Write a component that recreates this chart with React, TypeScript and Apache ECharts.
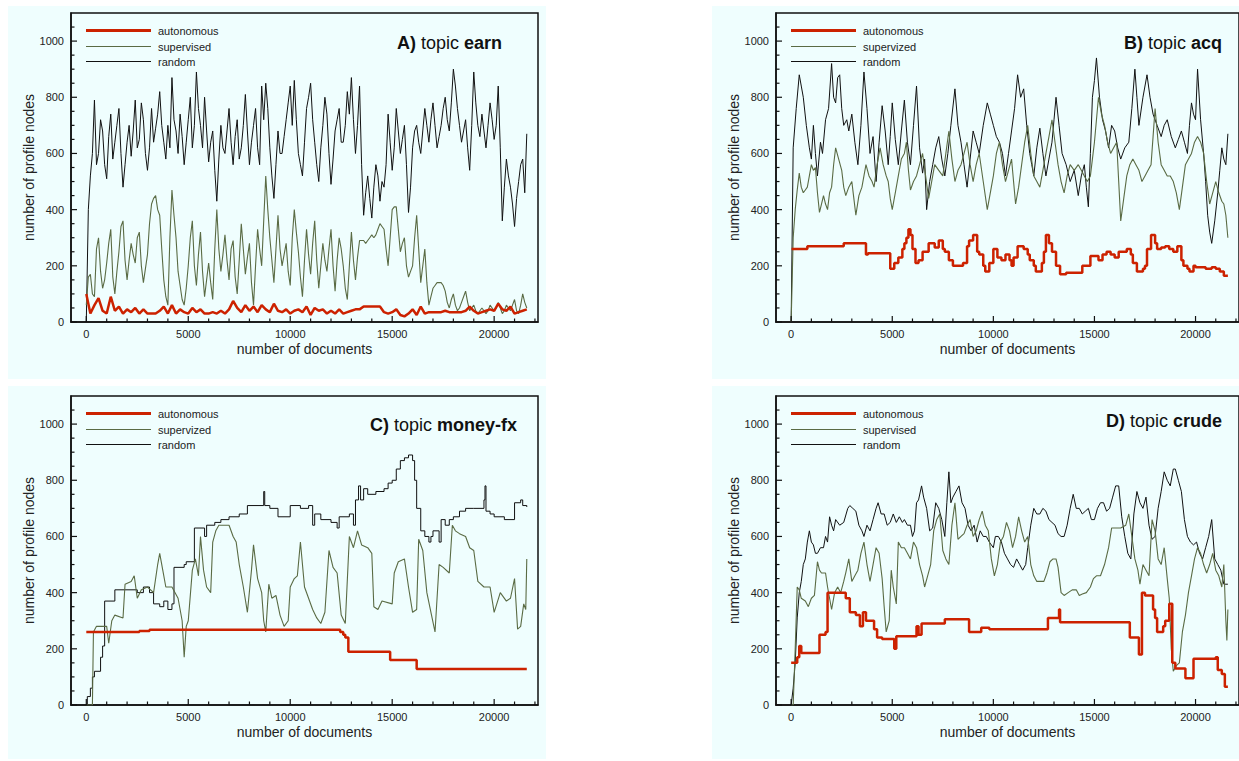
import React, { useEffect, useRef } from 'react';
import * as echarts from 'echarts';

// ---------- tick values ----------
const xTickLabels = [0, 5000, 10000, 15000, 20000];
const yTickLabels = [0, 200, 400, 600, 800, 1000];
const xTicks = [0, 1000, 2000, 3000, 4000, 5000, 6000, 7000, 8000, 9000, 10000, 11000, 12000, 13000, 14000, 15000, 16000, 17000, 18000, 19000, 20000, 21000, 22000];
const yTicks = [0, 50, 100, 150, 200, 250, 300, 350, 400, 450, 500, 550, 600, 650, 700, 750, 800, 850, 900, 950, 1000, 1050];

// ---------- titles / legends ----------
const panelTitles = [
  ['A)', 'earn'],
  ['B)', 'acq'],
  ['C)', 'money-fx'],
  ['D)', 'crude'],
];
const legendNames = [
  ['autonomous', 'supervised', 'random'],
  ['autonomous', 'supervized', 'random'],
  ['autonomous', 'supervized', 'random'],
  ['autonomous', 'supervised', 'random'],
];

// ---------- Panel A (sampled every 100 documents, 0 … 21600) ----------
const aRandom = [0, 400, 520, 600, 790, 560, 600, 720, 680, 560,
  510, 660, 740, 580, 640, 700, 760, 600, 480, 560,
  640, 700, 590, 680, 790, 620, 650, 780, 720, 600,
  540, 620, 760, 640, 690, 740, 820, 700, 640, 580,
  700, 620, 870, 720, 680, 600, 740, 660, 560, 640,
  720, 800, 620, 700, 890, 760, 700, 620, 800, 680,
  570, 640, 680, 540, 430, 580, 700, 620, 600, 680,
  760, 640, 560, 660, 720, 580, 620, 700, 810, 680,
  560, 640, 700, 760, 620, 560, 840, 720, 850, 760,
  620, 520, 440, 560, 680, 600, 600, 660, 720, 780,
  840, 700, 860, 720, 600, 560, 520, 640, 760, 800,
  850, 720, 640, 560, 500, 620, 700, 800, 740, 600,
  490, 580, 680, 720, 760, 640, 640, 700, 820, 740,
  870, 720, 600, 700, 840, 560, 380, 460, 520, 440,
  370, 480, 560, 520, 430, 500, 480, 560, 740, 640,
  540, 620, 760, 680, 600, 650, 700, 560, 390, 480,
  620, 680, 700, 640, 600, 680, 760, 700, 640, 720,
  780, 700, 620, 660, 700, 760, 800, 720, 680, 780,
  900, 840, 760, 700, 640, 680, 720, 620, 540, 700,
  890, 780, 700, 660, 740, 680, 620, 700, 780, 720,
  650, 700, 840, 620, 360, 480, 580, 520, 480, 420,
  340, 440, 500, 560, 580, 460, 670];
const aSupervised = [60, 160, 170, 100, 90, 260, 300, 180, 120, 150,
  210, 280, 330, 160, 100, 180, 250, 340, 360, 220,
  150, 220, 280, 240, 210, 300, 320, 200, 140, 190,
  240, 350, 420, 440, 450, 400, 380, 260, 150, 90,
  60, 300, 470, 380, 300, 180, 130, 80, 60, 120,
  200, 300, 360, 200, 130, 240, 320, 180, 90, 150,
  210, 140, 80, 260, 400, 260, 180, 240, 310, 220,
  150, 260, 290, 160, 100, 220, 350, 260, 170, 230,
  280, 140, 60, 200, 330, 260, 200, 360, 520, 400,
  300, 220, 140, 260, 380, 260, 200, 240, 280, 180,
  130, 300, 400, 320, 250, 160, 90, 220, 330, 240,
  170, 280, 360, 220, 120, 200, 280, 220, 180, 260,
  330, 200, 110, 220, 300, 260, 200, 120, 80, 200,
  320, 220, 150, 230, 290, 290, 290, 280, 290, 300,
  310, 300, 310, 330, 350, 340, 330, 260, 200, 300,
  400, 410, 410, 330, 250, 280, 300, 200, 160, 180,
  200, 300, 380, 260, 140, 200, 260, 140, 60, 90,
  120, 130, 140, 140, 140, 130, 110, 70, 50, 80,
  100, 60, 40, 50, 70, 90, 110, 70, 40, 50,
  60, 40, 30, 40, 50, 40, 30, 40, 60, 50,
  40, 50, 70, 50, 30, 40, 60, 50, 40, 60,
  80, 40, 30, 60, 100, 70, 50];
// sampled every 200 documents, 0 … 21600
const aAutonomous = [100, 30, 60, 85, 40, 30, 90, 40, 55, 30, 45, 35, 50, 30, 45, 30, 30, 30, 40, 55,
  30, 60, 30, 45, 35, 30, 50, 35, 45, 30, 30, 35, 30, 40, 30, 45, 75, 50, 35, 60,
  40, 55, 35, 60, 45, 35, 65, 40, 35, 45, 30, 40, 45, 35, 55, 25, 50, 40, 45, 30,
  40, 30, 45, 30, 35, 40, 45, 45, 55, 55, 55, 55, 55, 35, 30, 35, 45, 25, 20, 30,
  45, 25, 55, 30, 35, 35, 35, 35, 40, 35, 35, 35, 35, 40, 55, 40, 30, 35, 40, 45,
  40, 65, 45, 40, 55, 30, 35, 40, 45];

// ---------- Panel B ([thousand documents, nodes]) ----------
const bRandom = [[0,0],[0.1,620],[0.25,760],[0.4,880],[0.5,840],[0.6,800],[0.75,700],[0.9,620],[1.0,580],[1.1,700],[1.2,600],[1.3,520],[1.45,640],[1.55,600],[1.7,720],[1.85,760],[2.0,920],[2.1,800],[2.2,780],[2.3,870],[2.4,880],[2.5,760],[2.6,700],[2.75,720],[2.85,680],[3.0,740],[3.15,640],[3.3,560],[3.45,700],[3.6,890],[3.75,760],[3.9,600],[4.05,660],[4.2,500],[4.35,640],[4.5,770],[4.65,680],[4.8,560],[4.9,660],[5.0,780],[5.15,650],[5.3,560],[5.45,680],[5.6,790],[5.75,640],[5.9,560],[6.05,700],[6.2,840],[6.35,620],[6.5,530],[6.6,580],[6.7,400],[6.85,500],[7.0,560],[7.15,620],[7.3,660],[7.45,580],[7.6,520],[7.75,600],[7.9,700],[8.1,830],[8.25,700],[8.4,640],[8.55,560],[8.7,480],[8.85,580],[9.0,680],[9.15,640],[9.3,600],[9.5,700],[9.7,780],[9.85,740],[10.0,700],[10.15,660],[10.3,640],[10.45,600],[10.6,520],[10.75,600],[10.9,680],[11.05,760],[11.2,880],[11.35,800],[11.5,830],[11.65,700],[11.8,600],[11.9,560],[12.0,520],[12.15,620],[12.3,690],[12.45,600],[12.6,520],[12.75,580],[12.9,640],[13.0,720],[13.1,800],[13.25,700],[13.4,600],[13.6,560],[13.8,500],[14.0,540],[14.2,450],[14.35,520],[14.5,560],[14.6,480],[14.7,410],[14.8,600],[14.9,800],[15.0,860],[15.1,940],[15.25,800],[15.4,720],[15.55,680],[15.7,620],[15.85,700],[16.0,680],[16.15,620],[16.3,580],[16.5,620],[16.7,640],[16.85,760],[17.0,900],[17.1,800],[17.2,700],[17.4,800],[17.6,880],[17.75,800],[17.9,740],[18.1,700],[18.3,660],[18.45,700],[18.6,720],[18.8,660],[19.0,620],[19.15,650],[19.3,680],[19.45,640],[19.6,600],[19.7,700],[19.8,780],[19.9,740],[20.0,720],[20.1,900],[20.25,720],[20.4,600],[20.5,500],[20.6,380],[20.7,320],[20.8,280],[20.95,360],[21.1,460],[21.2,540],[21.3,620],[21.4,580],[21.5,560],[21.6,670]];
const bSupervised = [[0,0],[0.1,300],[0.2,400],[0.3,470],[0.4,530],[0.5,480],[0.6,460],[0.7,470],[0.8,480],[0.9,520],[1.0,560],[1.1,540],[1.2,550],[1.3,460],[1.4,390],[1.5,420],[1.6,450],[1.7,420],[1.8,400],[1.9,460],[2.0,480],[2.1,560],[2.2,620],[2.35,580],[2.5,540],[2.6,480],[2.7,450],[2.85,480],[3.0,500],[3.1,440],[3.2,380],[3.35,450],[3.5,480],[3.6,520],[3.7,560],[3.85,520],[4.0,500],[4.1,480],[4.25,560],[4.4,620],[4.55,560],[4.7,520],[4.8,500],[4.9,440],[5.0,400],[5.15,460],[5.3,520],[5.45,580],[5.6,600],[5.7,640],[5.8,540],[5.9,470],[6.05,500],[6.2,520],[6.35,560],[6.5,600],[6.65,520],[6.8,440],[6.95,500],[7.1,560],[7.3,540],[7.5,520],[7.65,600],[7.8,680],[7.95,580],[8.1,500],[8.25,540],[8.4,560],[8.55,600],[8.7,640],[8.85,560],[9.0,500],[9.15,560],[9.3,600],[9.5,500],[9.7,400],[9.85,460],[10.0,520],[10.15,600],[10.3,640],[10.45,560],[10.6,500],[10.75,540],[10.9,580],[11.0,500],[11.1,420],[11.25,480],[11.4,560],[11.55,640],[11.7,700],[11.85,600],[12.0,520],[12.15,500],[12.3,480],[12.45,540],[12.6,600],[12.75,660],[12.9,720],[13.05,640],[13.2,560],[13.35,500],[13.5,460],[13.65,520],[13.8,560],[14.0,540],[14.2,560],[14.35,540],[14.5,520],[14.65,500],[14.8,520],[14.9,580],[15.0,640],[15.1,720],[15.2,800],[15.35,740],[15.5,700],[15.65,640],[15.8,600],[15.95,620],[16.1,640],[16.2,500],[16.3,360],[16.45,440],[16.6,520],[16.75,560],[16.9,580],[17.05,560],[17.2,540],[17.35,500],[17.5,520],[17.65,540],[17.8,560],[17.9,660],[18.0,760],[18.15,640],[18.3,560],[18.45,540],[18.6,520],[18.75,520],[18.9,500],[19.05,460],[19.2,400],[19.35,480],[19.5,560],[19.65,580],[19.8,600],[19.95,640],[20.1,660],[20.25,640],[20.4,600],[20.55,500],[20.7,420],[20.85,460],[21.0,500],[21.15,460],[21.3,430],[21.4,420],[21.5,380],[21.6,300]];
const bAutonomous = [[0.02,260],[0.8,270],[2.6,280],[3.7,240],[3.8,245],[4.9,190],[5.1,210],[5.3,230],[5.5,260],[5.6,280],[5.7,300],[5.8,330],[5.9,310],[6.0,260],[6.15,210],[6.3,220],[6.5,250],[6.8,280],[7.1,265],[7.3,290],[7.5,260],[7.6,250],[7.8,220],[8.0,200],[8.5,210],[8.7,270],[8.8,290],[9.0,310],[9.2,250],[9.3,240],[9.5,200],[9.6,180],[9.8,210],[10.0,260],[10.2,230],[10.4,220],[10.6,240],[10.8,220],[10.9,200],[11.0,230],[11.2,270],[11.5,260],[11.7,240],[11.8,220],[12.0,200],[12.1,180],[12.4,210],[12.5,250],[12.6,310],[12.75,280],[12.9,250],[13.1,200],[13.3,170],[13.6,175],[14.2,175],[14.4,200],[14.6,200],[14.8,235],[15.2,220],[15.4,240],[15.6,250],[15.8,240],[16.0,230],[16.2,250],[16.4,250],[16.6,260],[16.8,240],[16.9,210],[17.1,180],[17.4,190],[17.5,200],[17.6,260],[17.8,310],[18.0,280],[18.1,260],[18.3,265],[18.5,270],[18.7,260],[18.9,250],[19.1,270],[19.3,220],[19.4,200],[19.6,190],[19.7,180],[19.9,200],[20.0,195],[20.5,190],[20.8,195],[21.0,190],[21.2,180],[21.4,165],[21.6,165]];

// ---------- Panel C ----------
const cRandom = [[0,0],[0.05,30],[0.2,60],[0.3,100],[0.4,120],[0.7,170],[0.8,210],[0.9,370],[1.4,410],[2.5,400],[2.8,420],[3.1,400],[3.3,360],[3.6,350],[3.8,370],[4.0,340],[4.2,360],[4.3,490],[4.8,500],[4.9,510],[5.3,630],[5.8,600],[5.9,640],[6.3,650],[6.6,660],[7.0,670],[7.5,680],[7.9,710],[8.7,760],[8.75,710],[9.0,700],[9.4,670],[10.0,710],[10.5,700],[10.9,710],[11.1,640],[11.2,680],[11.5,660],[12.0,650],[12.3,630],[12.4,670],[12.9,680],[13.1,640],[13.2,730],[13.35,780],[13.45,730],[13.6,770],[13.8,750],[14.2,760],[14.6,770],[14.8,790],[15.0,800],[15.2,840],[15.4,870],[15.6,880],[15.8,890],[16.0,870],[16.1,800],[16.2,700],[16.4,620],[16.6,600],[16.8,580],[16.9,600],[17.0,620],[17.3,580],[17.4,660],[17.6,640],[17.8,660],[18.0,670],[18.3,690],[18.6,700],[19.0,700],[19.5,730],[19.55,780],[19.6,690],[19.8,680],[20.0,670],[20.5,660],[21.0,720],[21.3,730],[21.4,710],[21.6,705]];
const cSupervised = [[0,0],[0.3,0],[0.35,260],[0.5,280],[1.0,280],[1.1,220],[1.25,300],[1.4,320],[1.8,310],[1.9,430],[2.2,440],[2.35,460],[2.5,380],[2.7,410],[3.0,420],[3.3,400],[3.5,500],[3.6,540],[3.75,480],[3.9,420],[4.2,420],[4.5,380],[4.6,340],[4.7,300],[4.8,170],[4.9,280],[5.0,300],[5.2,480],[5.35,520],[5.5,460],[5.6,600],[5.75,480],[5.9,420],[6.1,400],[6.2,580],[6.35,620],[6.5,640],[6.8,640],[7.0,640],[7.2,600],[7.35,580],[7.5,500],[7.7,420],[7.9,330],[8.1,480],[8.2,570],[8.4,450],[8.6,400],[8.7,300],[8.8,260],[8.95,430],[9.1,380],[9.3,390],[9.5,320],[9.7,280],[9.9,300],[10.0,420],[10.2,450],[10.35,460],[10.5,580],[10.7,420],[10.9,380],[11.1,340],[11.3,310],[11.5,290],[11.7,330],[11.9,550],[12.1,490],[12.3,470],[12.5,320],[12.7,290],[12.9,600],[13.1,560],[13.3,620],[13.5,570],[13.8,560],[14.0,540],[14.1,350],[14.3,340],[14.5,370],[15.0,360],[15.1,470],[15.3,510],[15.6,520],[15.8,420],[16.0,330],[16.2,340],[16.3,590],[16.5,550],[16.7,400],[16.9,330],[17.1,260],[17.3,500],[17.5,490],[17.8,470],[17.95,640],[18.1,620],[18.3,610],[18.6,600],[18.8,560],[19.0,550],[19.2,440],[19.5,420],[19.8,420],[20.0,330],[20.3,400],[20.6,370],[20.8,380],[21.0,450],[21.15,270],[21.3,280],[21.45,360],[21.55,340],[21.6,520]];
const cAutonomous = [[0,260],[2.6,263],[3.1,268],[12.3,268],[12.45,260],[12.6,250],[12.7,240],[12.85,190],[14.9,160],[16.2,128],[21.6,128]];

// ---------- Panel D ----------
const dRandom = [[0,0],[0.1,60],[0.2,150],[0.3,310],[0.4,400],[0.5,440],[0.6,500],[0.7,520],[0.8,580],[0.9,620],[1.0,580],[1.1,570],[1.2,540],[1.3,540],[1.45,560],[1.6,560],[1.7,600],[1.8,580],[1.9,670],[2.0,640],[2.1,620],[2.2,660],[2.4,640],[2.6,650],[2.8,700],[2.9,710],[3.05,700],[3.2,690],[3.35,640],[3.5,620],[3.6,600],[3.75,640],[3.9,620],[4.05,660],[4.2,700],[4.3,720],[4.45,680],[4.6,680],[4.75,640],[4.9,650],[5.05,680],[5.2,650],[5.35,670],[5.5,650],[5.6,660],[5.75,640],[5.9,640],[6.0,600],[6.1,620],[6.2,720],[6.3,730],[6.45,780],[6.55,740],[6.7,700],[6.85,620],[7.0,630],[7.15,720],[7.3,700],[7.45,660],[7.6,600],[7.7,720],[7.8,830],[7.9,720],[8.0,740],[8.15,760],[8.3,780],[8.45,720],[8.6,700],[8.75,640],[8.9,620],[9.05,640],[9.2,580],[9.35,620],[9.5,600],[9.65,600],[9.8,580],[10.0,560],[10.1,600],[10.25,600],[10.4,580],[10.55,540],[10.7,520],[10.85,500],[11.0,490],[11.15,520],[11.3,500],[11.45,480],[11.6,500],[11.7,560],[11.85,640],[12.0,700],[12.15,680],[12.3,680],[12.45,700],[12.6,690],[12.75,660],[12.9,650],[13.05,640],[13.2,610],[13.35,600],[13.5,600],[13.65,640],[13.8,700],[13.95,750],[14.1,700],[14.25,700],[14.4,680],[14.55,690],[14.7,700],[14.85,660],[15.0,660],[15.15,700],[15.3,720],[15.45,720],[15.6,690],[15.75,700],[15.9,740],[16.05,780],[16.2,780],[16.35,670],[16.5,600],[16.65,540],[16.8,520],[16.95,680],[17.1,760],[17.25,720],[17.4,700],[17.55,740],[17.7,640],[17.85,590],[18.0,600],[18.15,700],[18.3,760],[18.45,830],[18.6,800],[18.75,780],[18.9,840],[19.0,840],[19.15,800],[19.3,760],[19.45,660],[19.6,600],[19.75,580],[19.9,570],[20.05,580],[20.2,540],[20.35,520],[20.5,560],[20.65,600],[20.8,660],[20.95,520],[21.1,500],[21.25,480],[21.4,430],[21.5,430],[21.6,430]];
const dSupervised = [[0,0],[0.1,0],[0.2,200],[0.3,420],[0.4,410],[0.5,380],[0.7,370],[0.85,350],[1.0,380],[1.15,390],[1.3,510],[1.4,480],[1.5,470],[1.7,470],[1.8,420],[1.9,380],[2.0,340],[2.15,400],[2.3,420],[2.45,400],[2.6,440],[2.7,470],[2.85,520],[3.0,440],[3.15,460],[3.3,480],[3.45,540],[3.6,580],[3.75,500],[3.9,440],[4.05,500],[4.2,560],[4.35,540],[4.5,450],[4.6,350],[4.7,260],[4.85,300],[4.95,480],[5.05,420],[5.2,360],[5.3,580],[5.45,560],[5.6,560],[5.75,540],[5.9,520],[6.05,580],[6.2,560],[6.35,500],[6.5,460],[6.6,420],[6.75,460],[6.9,500],[7.05,620],[7.2,660],[7.35,680],[7.5,550],[7.65,520],[7.8,500],[7.95,640],[8.1,720],[8.25,590],[8.4,600],[8.55,610],[8.7,640],[8.85,660],[9.0,600],[9.15,620],[9.3,660],[9.45,690],[9.6,640],[9.75,620],[9.9,520],[10.05,460],[10.2,500],[10.35,580],[10.5,600],[10.65,650],[10.8,620],[10.95,560],[11.1,600],[11.25,670],[11.4,620],[11.55,580],[11.7,600],[11.85,500],[12.0,460],[12.15,440],[12.3,440],[12.5,440],[12.65,470],[12.8,510],[12.95,520],[13.1,520],[13.2,490],[13.35,400],[13.5,390],[13.7,400],[13.9,410],[14.1,410],[14.25,390],[14.4,395],[14.6,400],[14.8,420],[14.95,450],[15.1,460],[15.3,460],[15.5,500],[15.7,560],[15.85,630],[16.0,630],[16.3,630],[16.55,640],[16.7,680],[16.85,600],[17.0,520],[17.15,480],[17.25,430],[17.4,500],[17.55,480],[17.7,460],[17.85,660],[18.0,620],[18.15,520],[18.3,500],[18.45,560],[18.6,450],[18.7,380],[18.8,200],[18.9,120],[19.05,140],[19.2,150],[19.35,260],[19.5,320],[19.65,400],[19.8,460],[19.95,520],[20.1,560],[20.25,540],[20.4,500],[20.55,470],[20.7,500],[20.85,540],[21.0,480],[21.15,460],[21.3,420],[21.4,500],[21.5,300],[21.55,230],[21.6,340]];
const dAutonomous = [[0,150],[0.2,150],[0.3,170],[0.4,210],[0.5,185],[1.3,185],[1.4,250],[1.7,260],[1.8,400],[2.6,400],[2.7,380],[2.9,330],[3.2,320],[3.4,280],[3.55,330],[3.7,300],[4.1,270],[4.25,240],[4.5,235],[5.1,200],[5.2,245],[6.1,245],[6.2,280],[6.3,250],[6.45,290],[7.4,290],[7.6,305],[8.7,305],[8.8,260],[9.35,260],[9.4,275],[9.8,270],[12.6,270],[12.7,310],[13.25,340],[13.3,295],[16.7,295],[16.75,240],[17.1,240],[17.2,180],[17.35,400],[17.5,390],[17.8,390],[17.9,340],[18.0,310],[18.1,260],[18.4,280],[18.5,300],[18.6,300],[18.7,360],[18.85,150],[19.0,130],[19.5,95],[19.9,165],[20.9,165],[21.0,170],[21.1,125],[21.3,110],[21.45,65],[21.6,65]];

// ---------- styling ----------
const FONT = '"Liberation Sans", Arial, Helvetica, sans-serif';
const BG = '#effefe';
const RED = '#cc2200';
const GREEN = '#5a6b44';
const BLACK = '#111111';
const LAST_DOC = 21600;
const X_MIN = -750;
const X_MAX = 22150;

const gridPos = [
  { left: 71, top: 13 },
  { left: 776, top: 13 },
  { left: 71, top: 396 },
  { left: 776, top: 396 },
];
const panelRects = [
  { x: 8, y: 6 },
  { x: 712, y: 6 },
  { x: 8, y: 386 },
  { x: 712, y: 386 },
];
const titlePos = [
  { x: 502, y: 43 },
  { x: 1222, y: 43 },
  { x: 517, y: 425 },
  { x: 1222, y: 421 },
];

// evenly sampled values spanning 0 … LAST_DOC documents
const even = (ys: number[]) => ys.map((v, i) => [Math.round((i * LAST_DOC) / (ys.length - 1)), v]);
const fromK = (pts: number[][]) => pts.map(([k, v]) => [Math.round(k * 1000), v]);

function lineSeries(name: string, data: number[][], color: string, width: number, gi: number, step: any = false, z = 2) {
  return {
    type: 'line',
    name,
    xAxisIndex: gi,
    yAxisIndex: gi,
    data,
    step,
    symbol: 'none',
    showSymbol: false,
    silent: true,
    z,
    lineStyle: { color, width },
    itemStyle: { color },
  };
}

// inward-pointing tick marks, placed through the axes' own scales
function tickSeries(gi: number, dir: 'x' | 'y') {
  const data = dir === 'x' ? xTicks.map((v) => [v, 0]) : yTicks.map((v) => [X_MIN, v]);
  return {
    type: 'custom',
    xAxisIndex: gi,
    yAxisIndex: gi,
    silent: true,
    clip: false,
    z: 20,
    data,
    renderItem: (_params: any, api: any) => {
      const xv = api.value(0);
      const yv = api.value(1);
      const p = api.coord([xv, yv]);
      const major = dir === 'x' ? xTickLabels.indexOf(xv) >= 0 : yTickLabels.indexOf(yv) >= 0;
      const len = major ? 6 : 3.5;
      const shape = dir === 'x'
        ? { x1: p[0], y1: p[1], x2: p[0], y2: p[1] - len }
        : { x1: p[0], y1: p[1], x2: p[0] + len, y2: p[1] };
      return { type: 'line', shape, style: { stroke: BLACK, lineWidth: 1.2 } };
    },
  };
}

export default function App() {
  const ref = useRef<HTMLDivElement>(null);
  useEffect(() => {
    if (!ref.current) return;
    const chart = echarts.init(ref.current, undefined, { renderer: 'svg' });

    const grids = gridPos.map((g) => ({
      left: g.left,
      top: g.top,
      width: 467,
      height: 309,
      show: true,
      backgroundColor: 'transparent',
      borderColor: BLACK,
      borderWidth: 1.5,
      containLabel: false,
    }));

    const xLabel = (v: number) => (xTickLabels.indexOf(v) >= 0 ? String(v) : '');
    const yLabel = (v: number) => (yTickLabels.indexOf(v) >= 0 ? String(v) : '');

    const xAxes = gridPos.map((_, i) => ({
      type: 'value',
      gridIndex: i,
      min: X_MIN,
      max: X_MAX,
      splitNumber: 23,
      name: 'number of documents',
      nameLocation: 'middle',
      nameGap: 20,
      nameTextStyle: { fontSize: 14, color: '#222', fontFamily: FONT },
      axisLine: { show: true, onZero: false, lineStyle: { color: BLACK, width: 1.5 } },
      axisTick: { show: false },
      axisLabel: { show: true, formatter: xLabel, showMinLabel: false, showMaxLabel: false, fontSize: 11, color: '#222', fontFamily: FONT, margin: 6 },
      splitLine: { show: false },
    }));

    const yAxes = gridPos.map((_, i) => ({
      type: 'value',
      gridIndex: i,
      min: 0,
      max: 1100,
      interval: 50,
      name: 'number of profile nodes',
      nameLocation: 'middle',
      nameGap: 34,
      nameTextStyle: { fontSize: 14, color: '#222', fontFamily: FONT },
      axisLine: { show: true, onZero: false, lineStyle: { color: BLACK, width: 1.5 } },
      axisTick: { show: false },
      axisLabel: { show: true, formatter: yLabel, fontSize: 11, color: '#222', fontFamily: FONT, margin: 7 },
      splitLine: { show: false },
    }));

    const series: any[] = [
      lineSeries('random', even(aRandom), BLACK, 1, 0, false, 2),
      lineSeries('supervised', even(aSupervised), GREEN, 1.1, 0, false, 3),
      lineSeries('autonomous', even(aAutonomous), RED, 2.5, 0, false, 4),

      lineSeries('random', fromK(bRandom), BLACK, 1, 1, false, 2),
      lineSeries('supervized', fromK(bSupervised), GREEN, 1.1, 1, false, 3),
      lineSeries('autonomous', fromK(bAutonomous), RED, 2.5, 1, 'end', 4),

      lineSeries('random', fromK(cRandom), BLACK, 1, 2, 'end', 2),
      lineSeries('supervized', fromK(cSupervised), GREEN, 1.1, 2, false, 3),
      lineSeries('autonomous', fromK(cAutonomous), RED, 2.5, 2, 'end', 4),

      lineSeries('random', fromK(dRandom), BLACK, 1, 3, false, 2),
      lineSeries('supervised', fromK(dSupervised), GREEN, 1.1, 3, false, 3),
      lineSeries('autonomous', fromK(dAutonomous), RED, 2.5, 3, 'end', 4),
    ];
    gridPos.forEach((_, i) => {
      series.push(tickSeries(i, 'x'));
      series.push(tickSeries(i, 'y'));
    });

    const graphics: any[] = [];
    panelRects.forEach((r) => {
      graphics.push({
        type: 'rect',
        z: -10,
        silent: true,
        shape: { x: r.x, y: r.y, width: 538, height: 373 },
        style: { fill: BG },
      });
    });
    const legendColors = [RED, GREEN, BLACK];
    const legendWidths = [3, 1.2, 1];
    gridPos.forEach((g, i) => {
      const lx = g.left + 15;
      const ly = g.top + 17;
      legendNames[i].forEach((nm, j) => {
        const y = Math.round(ly + j * 15.5) + 0.5;
        graphics.push({
          type: 'line',
          z: 100,
          silent: true,
          shape: { x1: lx, y1: y, x2: lx + 65, y2: y },
          style: { stroke: legendColors[j], lineWidth: legendWidths[j] },
        });
        graphics.push({
          type: 'text',
          z: 100,
          silent: true,
          x: lx + 72,
          y,
          style: { text: nm, fontSize: 11, fontFamily: FONT, fill: '#222', align: 'left', verticalAlign: 'middle' },
        });
      });
      const t = titlePos[i];
      graphics.push({
        type: 'text',
        z: 100,
        silent: true,
        x: t.x,
        y: t.y,
        style: {
          text: `{b|${panelTitles[i][0]}} topic {b|${panelTitles[i][1]}}`,
          rich: { b: { fontWeight: 'bold', fontSize: 18, fontFamily: FONT, fill: '#111' } },
          fontSize: 18,
          fontFamily: FONT,
          fill: '#111',
          align: 'right',
          verticalAlign: 'middle',
        },
      });
    });

    chart.setOption({
      animation: false,
      backgroundColor: '#ffffff',
      grid: grids,
      xAxis: xAxes,
      yAxis: yAxes,
      series,
      graphic: graphics,
    });

    return () => chart.dispose();
  }, []);

  return (
    <div
      ref={ref}
      style={{ position: 'absolute', left: 0, top: 0, width: 1239, height: 761 }}
    />
  );
}
